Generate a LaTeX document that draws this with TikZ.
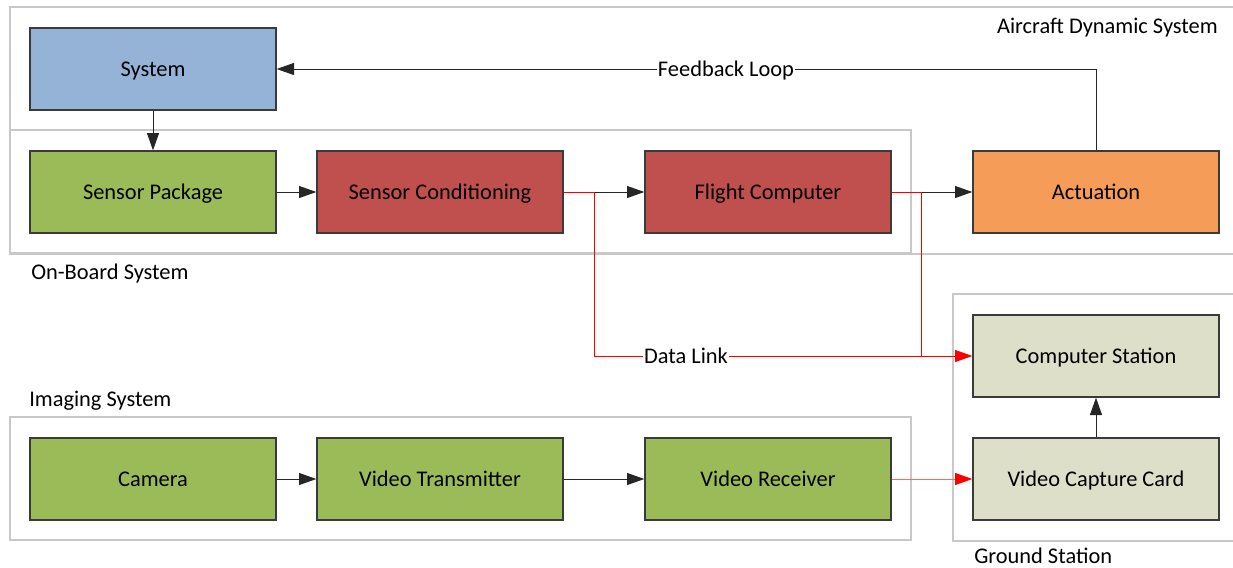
\documentclass[tikz,border=0pt]{standalone}
\usepackage{fontspec}
\setmainfont{Carlito}
\usetikzlibrary{arrows.meta}

\definecolor{sysblue}{HTML}{95B3D7}
\definecolor{olivegreen}{HTML}{9BBB59}
\definecolor{brickred}{HTML}{C0504D}
\definecolor{actorange}{HTML}{F59D58}
\definecolor{groundgray}{HTML}{DDDFC9}
\definecolor{framegray}{HTML}{C8C8C8}
\definecolor{boxedge}{HTML}{3A3A3A}
\definecolor{linkred}{HTML}{FF0000}

\tikzset{
  % text is centred on its capital height
  labelfont/.style={font=\fontsize{16.8}{20}\selectfont,
    text height=10.8pt, text depth=0pt},
  block/.style={draw=boxedge, line width=1pt, minimum width=184.5pt,
    minimum height=61.5pt, inner sep=0pt, labelfont},
  frame/.style={draw=framegray, line width=1pt},
  caption/.style={labelfont, inner sep=0pt},
  flow/.style={draw=black!85, line width=0.75pt, -{Triangle[length=13pt,width=9pt]}},
  link/.style={draw=linkred, line width=0.75pt},
  linkarrow/.style={draw=linkred, line width=0.75pt,
    -{Triangle[length=13pt,width=9pt,fill=linkred]}},
  faintlink/.style={draw=linkred!60, line width=0.75pt,
    -{Triangle[length=13pt,width=9pt,color=linkred,fill=linkred]}},
  tag/.style={labelfont, fill=white, inner xsep=1pt, inner ysep=3pt}
}

\begin{document}
\begin{tikzpicture}[x=0.75pt, y=-0.75pt]
\useasboundingbox (0,0) rectangle (1233,568);

% group frames
\draw[frame] (1233,7) -- (10,7) -- (10,254) -- (1233,254);
\draw[frame] (10,130) rectangle (911,253);
\draw[frame] (1233,294) -- (953,294) -- (953,541) -- (1233,541);
\draw[frame] (10,417) rectangle (911,540);

% group captions
\node[caption, anchor=east] (capAircraft) at (1218,26) {Aircraft Dynamic System};
\node[caption, anchor=west] (capOnboard) at (31,272) {On-Board System};
\node[caption, anchor=west] (capImaging) at (29,399) {Imaging System};
\node[caption, anchor=west] (capGround) at (974,556) {Ground Station};

% blocks
\node[block, fill=sysblue] (sys) at (153,69) {System};
\node[block, fill=olivegreen] (sp) at (153,192) {Sensor Package};
\node[block, fill=brickred] (sc) at (440,192) {Sensor Conditioning};
\node[block, fill=brickred] (fc) at (768,192) {Flight Computer};
\node[block, fill=actorange] (act) at (1096,192) {Actuation};
\node[block, fill=groundgray] (cs) at (1096,356) {Computer Station};
\node[block, fill=groundgray] (vcc) at (1096,479) {Video Capture Card};
\node[block, fill=olivegreen] (cam) at (153,479) {Camera};
\node[block, fill=olivegreen] (vt) at (440,479) {Video Transmitter};
\node[block, fill=olivegreen] (vr) at (768,479) {Video Receiver};

% branch points of the data link
\coordinate (j1) at (594,192);
\coordinate (j2) at (921,192);
\coordinate (d1) at (594,356);
\coordinate (d2) at (921,356);

% on-board chain
\draw[flow] (sys) -- (sp);
\draw[flow] (sp) -- (sc);
\draw[link] (sc.east) -- (j1);
\draw[flow] (j1) -- (fc.west);
\draw[link] (fc.east) -- (j2);
\draw[flow] (j2) -- (act.west);

% feedback loop
\draw[flow] (act.north) |- (sys.east);
\node[tag] (fbl) at (726,69) {Feedback Loop};

% data link to the ground station
\draw[link] (j2) -- (d2);
\draw[linkarrow] (j1) -- (d1) -- (cs.west);
\node[tag] (dl) at (686,356) {Data Link};

% imaging chain
\draw[flow] (cam) -- (vt);
\draw[flow] (vt) -- (vr);
\draw[faintlink] (vr.east) -- (vcc.west);
\draw[flow] (vcc) -- (cs);
\end{tikzpicture}
\end{document}
